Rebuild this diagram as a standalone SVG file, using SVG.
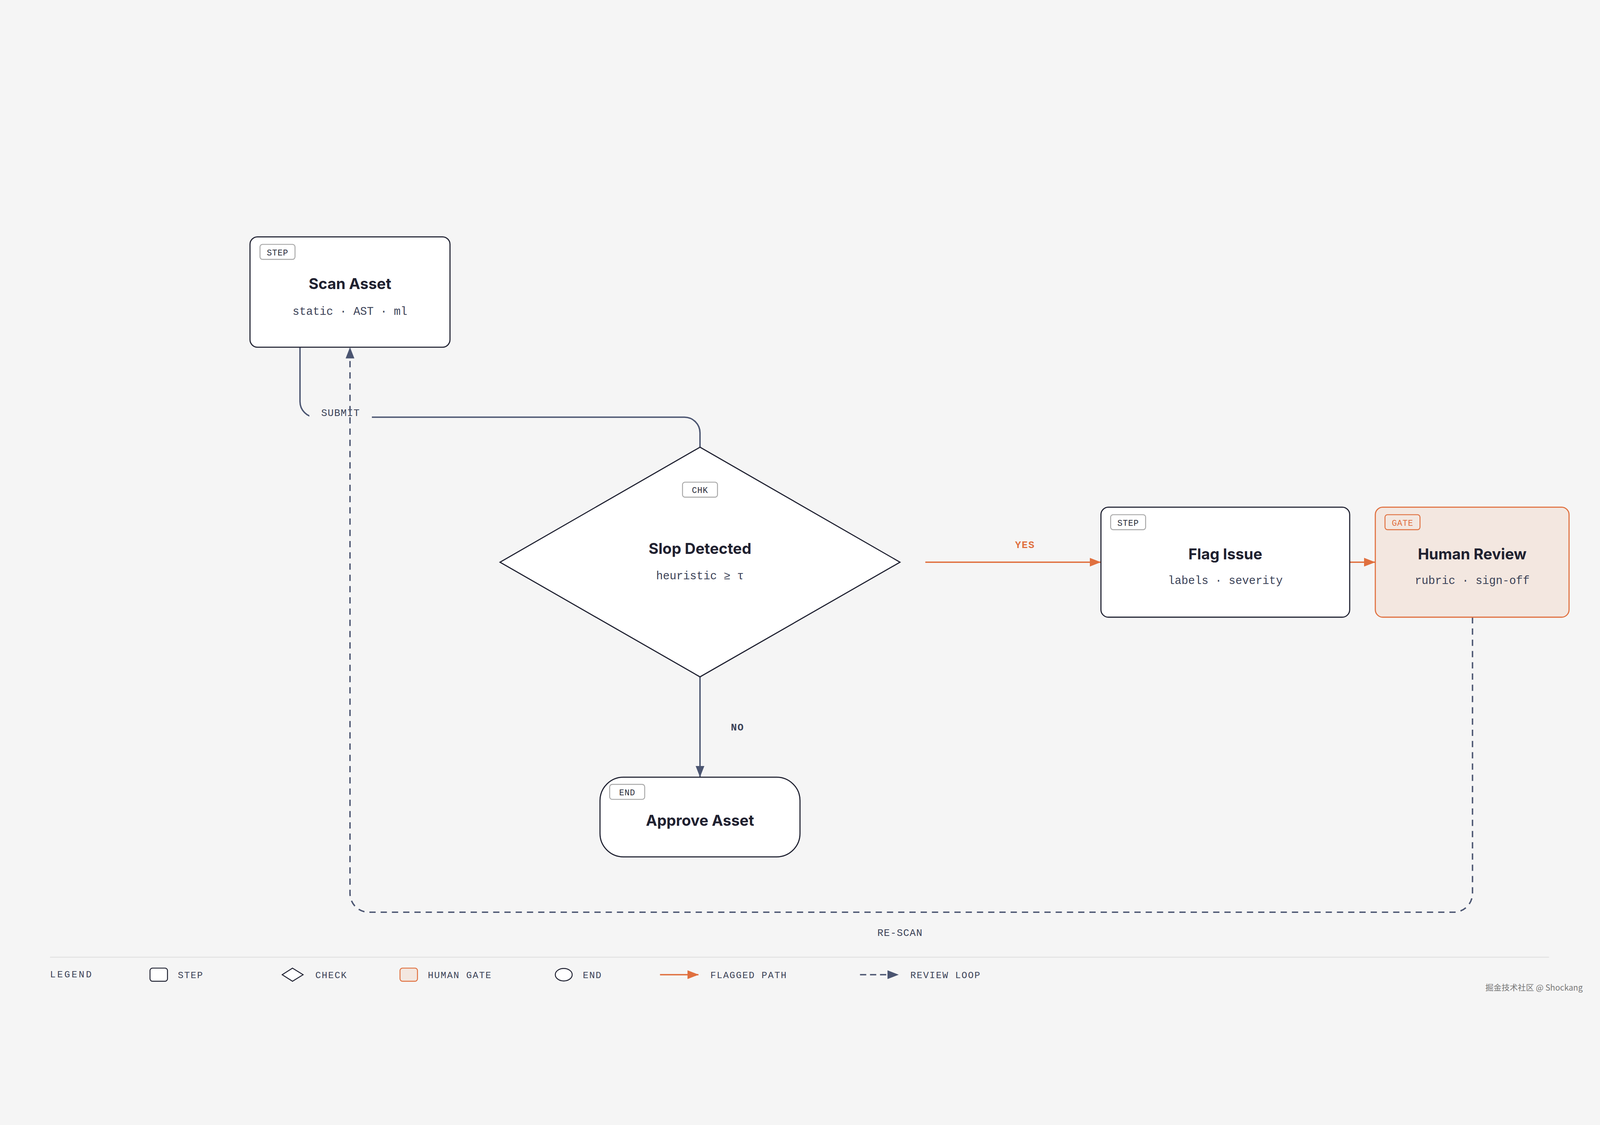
<svg xmlns="http://www.w3.org/2000/svg" width="5120" height="2880" viewBox="0 0 5120 2880" style="width:100vw;height:100vh;display:block;background:#f5f5f5">
<defs>
<style>
.bg{fill:#f5f5f5}
.box{fill:#ffffff;stroke:#1e2030;stroke-width:3.5}
.gate{fill:#f3e7e0;stroke:#e0703f;stroke-width:3.5}
.badge{fill:#ffffff;stroke:#a8a8a8;stroke-width:3}
.badge-g{fill:#f3e7e0;stroke:#e0703f;stroke-width:3}
.bt{font-family:"Liberation Mono","DejaVu Sans Mono",monospace;font-size:27px;fill:#2a2d3a;text-anchor:middle;letter-spacing:1px}
.bt-g{font-family:"Liberation Mono","DejaVu Sans Mono",monospace;font-size:27px;fill:#e0703f;text-anchor:middle;letter-spacing:1px}
.title{font-family:Inter,"Liberation Sans",sans-serif;font-weight:700;font-size:48px;fill:#1f2130;text-anchor:middle}
.sub{font-family:"Liberation Mono","DejaVu Sans Mono",monospace;font-size:36px;fill:#3b4257;text-anchor:middle}
.conn{fill:none;stroke:#4b5571;stroke-width:4.5}
.dash{fill:none;stroke:#4b5571;stroke-width:4.5;stroke-dasharray:20 16}
.flag{fill:none;stroke:#e0703f;stroke-width:4.5}
.lbl{font-family:"Liberation Mono","DejaVu Sans Mono",monospace;font-size:32px;fill:#3b4257;letter-spacing:1.5px;text-anchor:middle}
.lbl-b{font-family:"Liberation Mono","DejaVu Sans Mono",monospace;font-size:32px;font-weight:bold;letter-spacing:2px;text-anchor:middle}
.lg{font-family:"Liberation Mono","DejaVu Sans Mono",monospace;font-size:30px;fill:#3b4257;letter-spacing:2.5px}
</style>
<marker id="ah" markerUnits="userSpaceOnUse" markerWidth="36" markerHeight="28" refX="35" refY="14" orient="auto" viewBox="0 0 36 28">
<path d="M0,0 L36,14 L0,28 z" fill="#4b5571"/>
</marker>
<marker id="ah-o" markerUnits="userSpaceOnUse" markerWidth="36" markerHeight="28" refX="35" refY="14" orient="auto" viewBox="0 0 36 28">
<path d="M0,0 L36,14 L0,28 z" fill="#e0703f"/>
</marker>
</defs>
<rect class="bg" x="0" y="0" width="5120" height="2880"/>

<g id="connectors">
<path id="c-submit" class="conn" d="M960 751 V925 A50 50 0 0 0 1010 975 H2190 A50 50 0 0 1 2240 1025 V1071"/>
<rect class="bg" x="990" y="940" width="200" height="52"/>
<text class="lbl" x="1090" y="971">SUBMIT</text>
<path id="c-yes" class="flag" d="M2961 1439 H3522" marker-end="url(#ah-o)"/>
<text class="lbl-b" x="3280" y="1394" fill="#e0703f">YES</text>
<path id="c-flag-gate" class="flag" d="M4320 1439 H4400" marker-end="url(#ah-o)"/>
<path id="c-no" class="conn" d="M2240 1806 V2126" marker-end="url(#ah)"/>
<text class="lbl-b" x="2360" y="1978" fill="#3b4257">NO</text>
<path id="c-rescan" class="dash" d="M4712 1615 V2499 A60 60 0 0 1 4652 2559 H1180 A60 60 0 0 1 1120 2499 V752" marker-end="url(#ah)"/>
<text class="lbl" x="2880" y="2635">RE-SCAN</text>
</g>

<g id="scan-asset">
<rect class="box" x="800" y="398" width="640" height="353" rx="24"/>
<rect class="badge" x="832" y="422" width="112" height="48" rx="8"/>
<text class="bt" x="888" y="457">STEP</text>
<text class="title" x="1120" y="565">Scan Asset</text>
<text class="sub" x="1120" y="647">static · AST · ml</text>
</g>

<g id="slop-detected">
<polygon class="box" points="2240,1071 2880,1439 2240,1806 1600,1439"/>
<rect class="badge" x="2184" y="1183" width="112" height="48" rx="8"/>
<text class="bt" x="2240" y="1218">CHK</text>
<text class="title" x="2240" y="1413">Slop Detected</text>
<text class="sub" x="2240" y="1494">heuristic ≥ τ</text>
</g>

<g id="flag-issue">
<rect class="box" x="3523" y="1263" width="796" height="352" rx="24"/>
<rect class="badge" x="3554" y="1287" width="112" height="48" rx="8"/>
<text class="bt" x="3610" y="1322">STEP</text>
<text class="title" x="3921" y="1430">Flag Issue</text>
<text class="sub" x="3921" y="1509">labels · severity</text>
</g>

<g id="human-review">
<rect class="gate" x="4401" y="1263" width="620" height="352" rx="24"/>
<rect class="badge-g" x="4432" y="1287" width="112" height="48" rx="8"/>
<text class="bt-g" x="4488" y="1322">GATE</text>
<text class="title" x="4711" y="1430">Human Review</text>
<text class="sub" x="4711" y="1509">rubric · sign-off</text>
</g>

<g id="approve-asset">
<rect class="box" x="1920" y="2127" width="640" height="255" rx="75"/>
<rect class="badge" x="1951" y="2150" width="112" height="48" rx="8"/>
<text class="bt" x="2007" y="2185">END</text>
<text class="title" x="2240" y="2282">Approve Asset</text>
</g>

<g id="legend">
<line x1="160" y1="2703" x2="4957" y2="2703" stroke="#e0e0e0" stroke-width="3"/>
<text class="lg" x="160" y="2768" style="letter-spacing:5px">LEGEND</text>
<rect class="box" x="480" y="2738" width="56" height="42" rx="8" style="stroke-width:3"/>
<text class="lg" x="569" y="2770">STEP</text>
<polygon class="box" points="936,2738 970,2759 936,2780 903,2759" style="stroke-width:3"/>
<text class="lg" x="1009" y="2770">CHECK</text>
<rect class="gate" x="1280" y="2738" width="56" height="42" rx="8" style="stroke-width:3"/>
<text class="lg" x="1369" y="2770">HUMAN GATE</text>
<ellipse class="box" cx="1804" cy="2759" rx="27" ry="20" style="stroke-width:3"/>
<text class="lg" x="1865" y="2770">END</text>
<line class="flag" x1="2112" y1="2759" x2="2235" y2="2759" marker-end="url(#ah-o)"/>
<text class="lg" x="2273" y="2770">FLAGGED PATH</text>
<line class="dash" x1="2752" y1="2759" x2="2875" y2="2759" style="stroke-dasharray:20 12" marker-end="url(#ah)"/>
<text class="lg" x="2913" y="2770">REVIEW LOOP</text>
</g>

<text x="4753" y="2810" font-family="'Noto Sans CJK SC','Noto Sans',sans-serif" font-size="26" fill="#777777">掘金技术社区 @ Shockang</text>
</svg>
